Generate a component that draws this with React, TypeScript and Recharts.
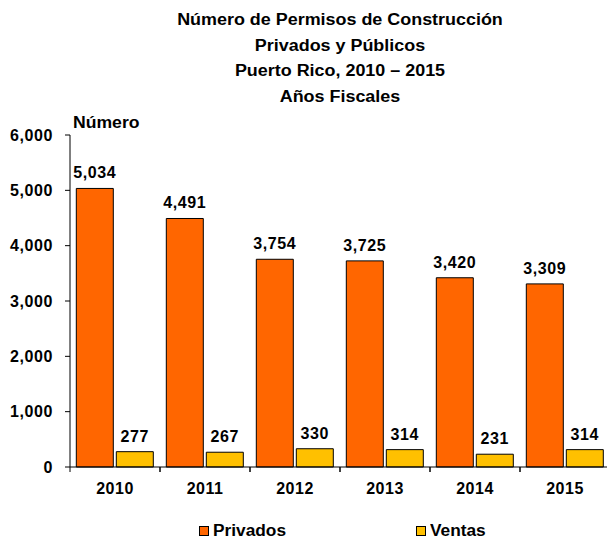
import React from 'react';
import { BarChart, Bar, XAxis, YAxis, LabelList } from 'recharts';

const years = ['2010', '2011', '2012', '2013', '2014', '2015'];
const privados = [5034, 4491, 3754, 3725, 3420, 3309];
const ventas = [277, 267, 330, 314, 231, 314];
const yTicks = [0, 1000, 2000, 3000, 4000, 5000, 6000];
const titleLines = [
  'Número de Permisos de Construcción',
  'Privados y Públicos',
  'Puerto Rico, 2010 – 2015',
  'Años Fiscales',
];
const seriesNames = ['Privados', 'Ventas'];
const colors = ['#FF6600', '#FFC000'];

const data = years.map((y, i) => ({ year: y, privados: privados[i], ventas: ventas[i] }));

const FONT = '"Liberation Sans", Arial, sans-serif';
const CHART_W = 612;
const LEFT = 70;
const RIGHT_MARGIN = 2;
const BAND = (CHART_W - LEFT - RIGHT_MARGIN) / years.length;

const fmt = (v: any) => Number(v).toLocaleString('en-US');

const XTick = (props: any) => {
  const { x, y, payload } = props;
  return (
    <g>
      <line x1={x - BAND / 2} y1={y} x2={x - BAND / 2} y2={y + 5} stroke="#000" strokeWidth={1} />
      <line x1={x + BAND / 2} y1={y} x2={x + BAND / 2} y2={y + 5} stroke="#000" strokeWidth={1} />
      <text
        x={x}
        y={y + 27}
        textAnchor="middle"
        fill="#000"
        fontSize={16}
        fontWeight="bold"
        fontFamily={FONT}
        letterSpacing={0.5}
      >
        {payload.value}
      </text>
    </g>
  );
};

export default function App() {
  return (
    <div
      style={{
        position: 'absolute',
        left: 0,
        top: 0,
        width: 607,
        height: 538,
        overflow: 'hidden',
        background: '#fff',
        fontFamily: FONT,
      }}
    >
      <div
        style={{
          position: 'absolute',
          left: 140,
          width: 400,
          top: 7,
          textAlign: 'center',
          fontWeight: 'bold',
          fontSize: 16,
          lineHeight: '25.7px',
          color: '#000',
          transform: 'scaleX(1.12)',
          transformOrigin: '200px 0',
        }}
      >
        {titleLines.map((t) => (
          <div key={t}>{t}</div>
        ))}
      </div>
      <div
        style={{
          position: 'absolute',
          left: 73,
          top: 113,
          fontWeight: 'bold',
          fontSize: 16,
          lineHeight: '20px',
          color: '#000',
          transform: 'scaleX(1.1)',
          transformOrigin: '0 0',
        }}
      >
        Número
      </div>
      <BarChart
        width={CHART_W}
        height={538}
        data={data}
        margin={{ top: 135, right: RIGHT_MARGIN, bottom: 0, left: 0 }}
        barCategoryGap="7%"
        barGap={3}
      >
        <XAxis
          dataKey="year"
          height={71}
          axisLine={{ stroke: '#000' }}
          tickLine={false}
          tickSize={0}
          tickMargin={0}
          tick={<XTick />}
          interval={0}
        />
        <YAxis
          width={LEFT}
          domain={[0, 6000]}
          ticks={yTicks}
          tickFormatter={fmt}
          axisLine={{ stroke: '#000' }}
          tickLine={{ stroke: '#000' }}
          tickSize={5}
          tickMargin={12}
          tick={{ fill: '#000', fontSize: 16, fontWeight: 'bold', fontFamily: FONT, letterSpacing: 0.6 }}
        />
        <Bar dataKey="privados" fill={colors[0]} stroke="#000" strokeWidth={1} isAnimationActive={false}>
          <LabelList
            dataKey="privados"
            position="top"
            offset={10}
            formatter={fmt}
            fill="#000"
            fontSize={16}
            fontWeight="bold"
            fontFamily={FONT}
            letterSpacing={0.6}
          />
        </Bar>
        <Bar dataKey="ventas" fill={colors[1]} stroke="#000" strokeWidth={1} isAnimationActive={false}>
          <LabelList
            dataKey="ventas"
            position="top"
            offset={10}
            formatter={fmt}
            fill="#000"
            fontSize={16}
            fontWeight="bold"
            fontFamily={FONT}
            letterSpacing={0.6}
          />
        </Bar>
      </BarChart>
      {seriesNames.map((name, i) => (
        <div
          key={name}
          style={{
            position: 'absolute',
            left: i === 0 ? 199 : 416,
            top: 521,
            display: 'flex',
            alignItems: 'center',
            fontWeight: 'bold',
            fontSize: 16,
            lineHeight: '20px',
            color: '#000',
          }}
        >
          <span
            style={{
              display: 'inline-block',
              width: 8,
              height: 8,
              background: colors[i],
              border: '1px solid #000',
              marginRight: 4,
            }}
          />
          <span style={{ display: 'inline-block', transform: 'scaleX(1.08)', transformOrigin: '0 0' }}>{name}</span>
        </div>
      ))}
    </div>
  );
}
